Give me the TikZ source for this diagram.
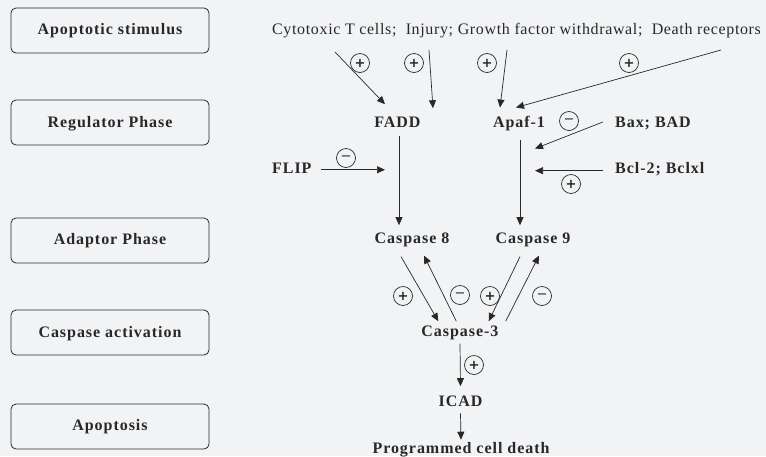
\documentclass[tikz,border=0pt]{standalone}
\usepackage{fontspec}
\setmainfont{Liberation Serif}
\newfontfamily\spacedfont[LetterSpace=6]{Liberation Serif}
\newfontfamily\stimfont[LetterSpace=4]{Liberation Serif}
\newfontfamily\signfont{DejaVu Sans}
\usetikzlibrary{arrows.meta}
\definecolor{paper}{RGB}{242,243,245}
\definecolor{ink}{RGB}{40,40,40}

\tikzset{
  phase/.style={draw=ink, line width=0.8pt, rounded corners=5pt, minimum width=198pt, minimum height=45pt},
  molec/.style={text=ink, inner sep=0pt, font=\spacedfont\bfseries\fontsize{16}{18}\selectfont},
  sign/.style={circle, draw=ink, line width=0.7pt, inner sep=0pt, minimum size=19pt, text=ink, font=\signfont\fontsize{13}{13}\selectfont},
  act/.style={draw=ink, line width=0.7pt, -{Triangle[length=8pt,width=7pt]}}
}

\begin{document}
\begin{tikzpicture}[x=1pt,y=-1pt]
  \fill[paper] (0,0) rectangle (766,456);                        % background
  \useasboundingbox (0,0) rectangle (766,456);

  % phases on the left
  \node[phase] (stimbox) at (110,30.5) {};
  \node[phase] (regbox)  at (110,122.5) {};
  \node[phase] (adabox)  at (110,240.5) {};
  \node[phase] (actbox)  at (110,332.5) {};
  \node[phase] (apobox)  at (110,426.5) {};
  \node[molec, anchor=base] at (110,34)  {Apoptotic stimulus};
  \node[molec, anchor=base] at (110,127) {Regulator Phase};
  \node[molec, anchor=base] at (110,244) {Adaptor Phase};
  \node[molec, anchor=base] at (110,337) {Caspase activation};
  \node[molec, anchor=base] at (110,430) {Apoptosis};

  % stimuli
  \node[anchor=base west, inner sep=0pt, text=ink, font=\stimfont\fontsize{16}{18}\selectfont] (stim) at (272,34)
    {Cytotoxic T cells;\ \ Injury; Growth factor withdrawal;\ \ Death receptors};
  \coordinate (tcell)  at (335,52);
  \coordinate (injury) at (429,50);
  \coordinate (growth) at (507,50);
  \coordinate (death)  at (721,50);

  % molecules
  \node[molec, anchor=base] (fadd)  at (397.5,127) {FADD};
  \node[molec, anchor=base] (apaf)  at (519,127)   {Apaf-1};
  \node[molec, anchor=base west] (bax)  at (615,127) {Bax; BAD};
  \node[molec, anchor=base west] (bcl)  at (615,173) {Bcl-2; Bclxl};
  \node[molec, anchor=base west] (flip) at (272,173) {FLIP};
  \node[molec, anchor=base] (casp8) at (412,243) {Caspase 8};
  \node[molec, anchor=base] (casp9) at (533,243) {Caspase 9};
  \node[molec, anchor=base] (casp3) at (460,336) {Caspase-3};
  \node[molec, anchor=base] (icad)  at (460.5,406) {ICAD};
  \node[molec, anchor=base] (death2) at (461,453) {Programmed cell death};

  % stimulus arrows
  \draw[act] (tcell)  -- ([xshift=-12.5pt,yshift=12pt]fadd.north);
  \draw[act] (injury) -- ([xshift=35.5pt,yshift=8pt]fadd.north);
  \draw[act] (growth) -- ([xshift=-19pt,yshift=8pt]apaf.north);
  \draw[act] (death)  -- ([xshift=-3pt,yshift=8pt]apaf.north);

  % regulators
  \draw[act] ([xshift=1.5pt,yshift=-9pt]fadd.south) -- ([xshift=1.5pt,yshift=7pt]fadd.south |- casp8.north);
  \draw[act] ([xshift=1pt,yshift=-9pt]apaf.south) -- ([xshift=1pt,yshift=7pt]apaf.south |- casp9.north);
  \draw[act] ([xshift=-12pt,yshift=1pt]bax.west) -- ([xshift=16pt,yshift=-18pt]apaf.south);
  \draw[act] ([xshift=-12pt,yshift=-2pt]bcl.west) -- ([xshift=16pt,yshift=-2pt]apaf.south |- bcl.west);
  \draw[act] ([xshift=9pt,yshift=-2pt]flip.east) -- ([xshift=-12.5pt,yshift=-2pt]fadd.south |- flip.east);

  % caspase loop
  \draw[act] ([xshift=-11pt,yshift=-10pt]casp8.south) -- ([xshift=17pt,yshift=4pt]casp3.north west);
  \draw[act] ([xshift=35pt,yshift=4pt]casp3.north west) -- ([xshift=12pt,yshift=-9pt]casp8.south);
  \draw[act] ([xshift=-13pt,yshift=-10pt]casp9.south) -- ([xshift=-10pt,yshift=4pt]casp3.north east);
  \draw[act] ([xshift=7pt,yshift=4pt]casp3.north east) -- ([xshift=6pt,yshift=-9pt]casp9.south);
  \draw[act] ([yshift=-4pt]casp3.south) -- ([yshift=9pt]icad.north);
  \draw[act] ([yshift=-7pt]icad.south) -- ([yshift=2pt]death2.north);

  % signs
  \node[sign] (s1) at (360,63) {\bfseries +};
  \node[sign] (s2) at (414,63) {\bfseries +};
  \node[sign] (s3) at (487,63) {\bfseries +};
  \node[sign] (s4) at (629,63) {\bfseries +};
  \node[sign] (s5) at (569,121) {−};
  \node[sign] (s6) at (571,184) {\bfseries +};
  \node[sign] (s7) at (346,158) {−};
  \node[sign] (s8) at (403,296) {\bfseries +};
  \node[sign] (s9) at (460,295) {−};
  \node[sign] (s10) at (490,296) {\bfseries +};
  \node[sign] (s11) at (542,296) {−};
  \node[sign] (s12) at (474,365) {\bfseries +};
\end{tikzpicture}
\end{document}
